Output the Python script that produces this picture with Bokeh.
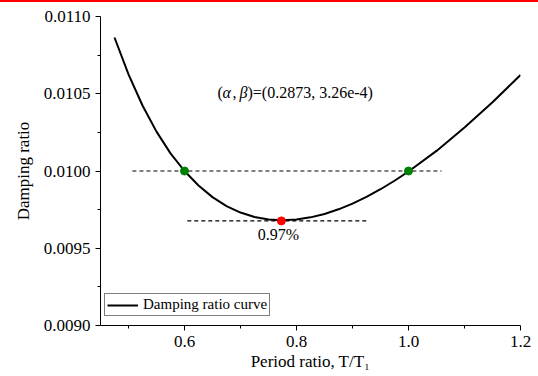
from bokeh.plotting import figure
from bokeh.models import (FixedTicker, PrintfTickFormatter, Label, Legend, LegendItem,
                          ColumnDataSource, Div)
from bokeh.layouts import column
from bokeh.embed import file_html
from bokeh.resources import INLINE

# ---- data ----
period_ratio = [0.475, 0.50, 0.525, 0.55, 0.575, 0.60, 0.625, 0.65, 0.675, 0.70, 0.725,
                0.75, 0.775, 0.80, 0.825, 0.85, 0.875, 0.90, 0.925, 0.95, 0.975, 1.00,
                1.05, 1.10, 1.15, 1.20]
damping = [0.010864, 0.010625, 0.010424, 0.010255, 0.010114, 0.010000, 0.009906,
           0.009831, 0.009773, 0.009731, 0.009702, 0.009686, 0.009681, 0.009686,
           0.009700, 0.009722, 0.009752, 0.009789, 0.009833, 0.009882, 0.009937,
           0.009997, 0.010130, 0.010281, 0.010445, 0.010621]
target_x = [0.6, 1.0]
target_y = [0.0100, 0.0100]
min_x = [0.773]
min_y = [0.009677]
upper_dash_x = [0.507, 1.059]
upper_dash_y = [0.0100, 0.0100]
lower_dash_x = [0.605, 0.929]
lower_dash_y = [0.009677, 0.009677]
x_ticks = [0.6, 0.8, 1.0, 1.2]
x_minor = [0.5, 0.7, 0.9, 1.1]
y_ticks = [0.0090, 0.0095, 0.0100, 0.0105, 0.0110]
y_minor = [0.00925, 0.00975, 0.01025, 0.01075]
min_label = "0.97%"
legend_label = "Damping ratio curve"
x_title = "Period ratio, T/T\u2081"
y_title = "Damping ratio"

FONT = "Liberation Serif"

p = figure(width=538, height=374, x_range=(0.45, 1.2), y_range=(0.0090, 0.0110),
           output_backend="svg", toolbar_location=None)
p.min_border_left = 100
p.min_border_right = 18
p.min_border_top = 14
p.min_border_bottom = 51
p.outline_line_color = None
p.xgrid.visible = False
p.ygrid.visible = False
p.background_fill_color = "white"
p.border_fill_color = "white"

for ax in (p.xaxis[0], p.yaxis[0]):
    ax.major_label_text_font = FONT
    ax.major_label_text_font_size = "17px"
    ax.major_label_text_color = "black"
    ax.axis_line_color = "black"
    ax.major_tick_line_color = "black"
    ax.minor_tick_line_color = "black"
    ax.major_tick_out = 5
    ax.major_tick_in = 0
    ax.minor_tick_out = 3
    ax.minor_tick_in = 0
    ax.major_label_standoff = 5
    ax.axis_label_text_font = FONT
    ax.axis_label_text_font_style = "normal"
    ax.axis_label_text_font_size = "17px"
    ax.axis_label_text_color = "black"

p.xaxis.ticker = FixedTicker(ticks=x_ticks, minor_ticks=x_minor)
p.yaxis.ticker = FixedTicker(ticks=y_ticks, minor_ticks=y_minor)
p.xaxis.formatter = PrintfTickFormatter(format="%.1f")
p.yaxis.formatter = PrintfTickFormatter(format="%.4f")
p.yaxis.axis_label = y_title
p.yaxis.axis_label_standoff = 8
p.xaxis.axis_label = x_title
p.xaxis.axis_label_standoff = 2

src = ColumnDataSource(dict(x=period_ratio, y=damping))
curve = p.line("x", "y", source=src, line_color="black", line_width=2)

p.line(upper_dash_x, upper_dash_y, line_color="black", line_width=1.2, line_dash="4 3")
p.line(lower_dash_x, lower_dash_y, line_color="black", line_width=1.2, line_dash="4 3")
p.scatter(target_x, target_y, size=8, fill_color="#008000", line_color="#008000")
p.scatter(min_x, min_y, size=8, fill_color="#ff0000", line_color="#ff0000")

p.add_layout(Label(x=min_x[0], y=min_y[0], text=min_label, text_font=FONT,
                   text_font_size="16px", text_align="center", text_baseline="middle",
                   x_offset=-3, y_offset=-14, text_color="black"))

# (alpha, beta) annotation, alpha and beta in italics
ann_x = 0.6589
ann_y = 0.010506
parts = [("(", 0, "normal"), ("\u03b1", 5, "italic"), (", ", 15, "normal"),
         ("\u03b2", 22, "italic"), (")=(0.2873, 3.26e-4)", 30, "normal")]
for txt, off, style in parts:
    p.add_layout(Label(x=ann_x, y=ann_y, text=txt, text_font=FONT, text_font_size="16px",
                       text_font_style=style, text_align="left", text_baseline="middle",
                       x_offset=off, text_color="black"))

legend = Legend(items=[LegendItem(label=legend_label, renderers=[curve])],
                location=(4, 9), margin=0, padding=2, spacing=0,
                label_text_font=FONT, label_text_font_size="15px",
                label_text_color="black", glyph_width=31, glyph_height=14,
                label_standoff=5, label_height=14,
                border_line_color="black", border_line_width=1,
                background_fill_alpha=1.0)
p.add_layout(legend)

bar = Div(width=538, height=2, margin=0, styles={"background-color": "#ff0000"})
layout = column(bar, p, spacing=0)

open("out.html", "w").write(file_html(layout, INLINE))
